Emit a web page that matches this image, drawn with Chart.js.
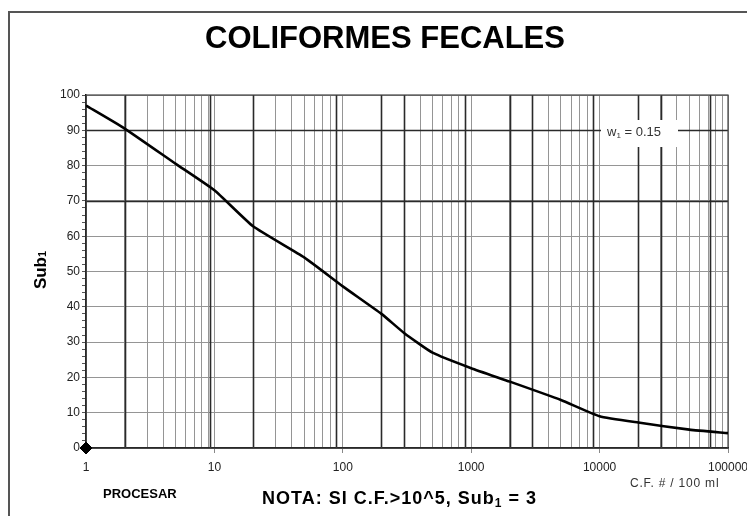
<!DOCTYPE html>
<html>
<head>
<meta charset="utf-8">
<style>
  html, body { margin: 0; padding: 0; background: #fff; }
  #wrap { position: relative; width: 747px; height: 516px; }
</style>
<script src="https://cdn.jsdelivr.net/npm/chart.js@4"></script>
</head>
<body>
<div id="wrap"><canvas id="cf"></canvas></div>
<script>
// curve
const cfValues  = [1, 2, 5, 10, 20, 50, 100, 200, 300, 500, 1000, 2000, 5000, 10000, 20000, 50000, 100000];
const subValues = [97, 90.5, 80.5, 73, 62.8, 54, 45.8, 38, 32.6, 27, 22.6, 18.8, 13.6, 9, 7.2, 5.2, 4.2];

const decadeLabels = [1, 10, 100, 1000, 10000, 100000];
const darkGridX = [2, 9.3, 20, 88, 200, 300, 890, 2000, 3000, 8900, 20000, 30000, 72000];
const darkGridY = [90, 70];
const processPoint = [{ x: 1, y: 0 }];

const weightText = '0.15';

const FONT = "'Liberation Sans', Arial, sans-serif";

// log grid ticks 1..9 per decade
const xTicks = [];
decadeLabels.forEach(d => {
  for (let k = 1; k <= 9; k++) {
    if (d * k <= 100000) xTicks.push(d * k);
  }
});

const isDecade = v => decadeLabels.includes(Math.round(v));

const overlay = {
  id: 'overlay',
  beforeDatasetsDraw(chart) {
    const { ctx, chartArea: a, scales: { x, y } } = chart;
    ctx.save();
    ctx.strokeStyle = '#2a2a2a';
    ctx.lineWidth = 1.6;
    darkGridX.forEach(v => {
      const px = Math.round(x.getPixelForValue(v)) + 0.5;
      ctx.beginPath(); ctx.moveTo(px, a.top); ctx.lineTo(px, a.bottom); ctx.stroke();
    });
    darkGridY.forEach(v => {
      const py = Math.round(y.getPixelForValue(v)) + 0.5;
      ctx.beginPath(); ctx.moveTo(a.left, py); ctx.lineTo(a.right, py); ctx.stroke();
    });
    ctx.strokeStyle = '#444';
    ctx.lineWidth = 1.2;
    ctx.strokeRect(a.left, a.top, a.right - a.left, a.bottom - a.top);

    // weight label box
    ctx.fillStyle = '#fff';
    ctx.fillRect(601, 120, 77, 27);
    ctx.fillStyle = '#333';
    ctx.textBaseline = 'alphabetic';
    ctx.font = '13px ' + FONT;
    ctx.fillText('w', 607, 136);
    let w = ctx.measureText('w').width;
    ctx.font = '8px ' + FONT;
    ctx.fillText('1', 607 + w, 138);
    w += ctx.measureText('1').width;
    ctx.font = '13px ' + FONT;
    ctx.fillText(' = ' + weightText, 607 + w, 136);
    ctx.restore();
  },
  afterDraw(chart) {
    const { ctx } = chart;
    ctx.save();
    // frame
    ctx.strokeStyle = '#555';
    ctx.lineWidth = 2;
    ctx.beginPath();
    ctx.moveTo(9, 516); ctx.lineTo(9, 12); ctx.lineTo(747, 12);
    ctx.stroke();

    ctx.fillStyle = '#000';
    ctx.textAlign = 'center';
    ctx.font = 'bold 31px ' + FONT;
    ctx.fillText('COLIFORMES FECALES', 385, 48);

    // y title
    ctx.save();
    ctx.translate(46, 270);
    ctx.rotate(-Math.PI / 2);
    ctx.textAlign = 'left';
    ctx.font = 'bold 17px ' + FONT;
    const sw = ctx.measureText('Sub').width;
    ctx.font = 'bold 11px ' + FONT;
    const s1 = ctx.measureText('1').width;
    const x0 = -(sw + s1) / 2;
    ctx.font = 'bold 17px ' + FONT;
    ctx.fillText('Sub', x0, 0);
    ctx.font = 'bold 11px ' + FONT;
    ctx.fillText('1', x0 + sw, 0);
    ctx.restore();

    ctx.textAlign = 'left';
    ctx.font = 'bold 13px ' + FONT;
    ctx.fillText('PROCESAR', 103, 498);

    ctx.letterSpacing = '1px';
    ctx.font = 'bold 18px ' + FONT;
    const p1 = 'NOTA: SI C.F.>10^5, Sub';
    ctx.fillText(p1, 262, 504);
    let nx = 262 + ctx.measureText(p1).width;
    ctx.font = 'bold 12px ' + FONT;
    ctx.fillText('1', nx, 507);
    nx += ctx.measureText('1').width;
    ctx.font = 'bold 18px ' + FONT;
    ctx.fillText(' = 3', nx, 504);
    ctx.letterSpacing = '0px';

    ctx.fillStyle = '#333';
    ctx.font = '12px ' + FONT;
    ctx.letterSpacing = '0.8px';
    ctx.fillText('C.F. # / 100 ml', 630, 487);
    ctx.letterSpacing = '0px';
    ctx.restore();
  }
};

const drawChart = () => {
  const ctx = document.querySelector('#cf');
  new Chart(ctx, {
    type: 'line',
    data: {
      datasets: [
        {
          label: 'Sub1',
          data: cfValues.map((v, i) => ({ x: v, y: subValues[i] })),
          borderColor: '#000',
          borderWidth: 2.6,
          pointRadius: 0,
          tension: 0.15,
          fill: false,
          order: 2
        },
        {
          label: 'Procesar',
          data: processPoint,
          showLine: false,
          pointStyle: 'rectRot',
          pointRadius: 6,
          backgroundColor: '#000',
          borderColor: '#000',
          clip: false,
          order: 1
        }
      ]
    },
    options: {
      responsive: false,
      animation: false,
      devicePixelRatio: 1,
      layout: { padding: { top: 95, left: 0, right: 19, bottom: 0 } },
      plugins: {
        legend: { display: false },
        tooltip: { enabled: false }
      },
      scales: {
        x: {
          type: 'logarithmic',
          min: 1,
          max: 100000,
          afterBuildTicks: s => { s.ticks = xTicks.map(v => ({ value: v })); },
          afterFit: s => { s.height = 68; s.paddingLeft = 0; s.paddingRight = 0; },
          border: { color: '#000', width: 1.5 },
          grid: {
            color: '#959595',
            lineWidth: 1,
            tickLength: 5,
            tickColor: c => isDecade(c.tick.value) ? '#888' : 'rgba(0,0,0,0)'
          },
          ticks: {
            autoSkip: false,
            maxRotation: 0,
            padding: 7,
            color: '#222',
            font: { family: FONT, size: 12 },
            callback: v => isDecade(v) ? String(Math.round(v)) : ''
          }
        },
        y: {
          min: 0,
          max: 100,
          afterFit: s => { s.width = 86; s.paddingTop = 0; s.paddingBottom = 0; },
          border: { color: '#000', width: 1.5 },
          grid: {
            color: c => c.tick.value % 10 === 0 ? '#959595' : 'rgba(0,0,0,0)',
            lineWidth: 1,
            tickLength: 4,
            tickColor: '#555'
          },
          ticks: {
            stepSize: 2,
            autoSkip: false,
            padding: 2,
            color: '#222',
            font: { family: FONT, size: 12 },
            callback: v => v % 10 === 0 ? String(v) : ''
          }
        }
      }
    },
    plugins: [overlay]
  });
};

document.querySelector('#cf').width = 747;
document.querySelector('#cf').height = 516;
document.addEventListener('DOMContentLoaded', drawChart);
</script>
</body>
</html>
